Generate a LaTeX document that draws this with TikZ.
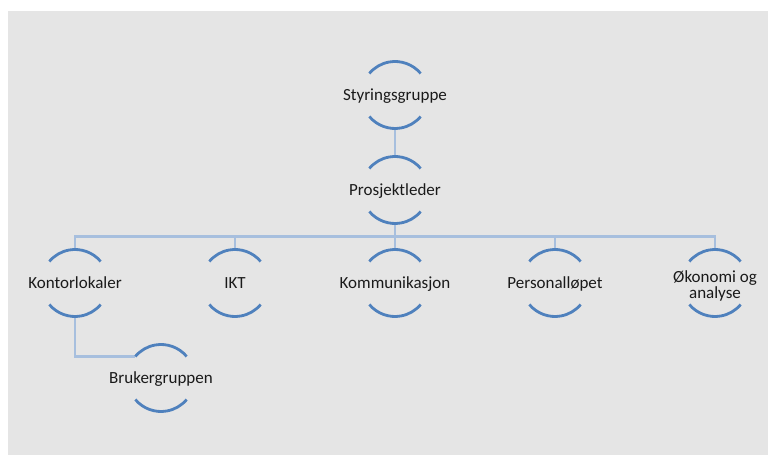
\documentclass[tikz,border=0pt]{standalone}
\usepackage{fontspec}
\setmainfont{Carlito}
\usetikzlibrary{positioning}
\definecolor{arcblue}{HTML}{4F81BD}
\definecolor{linkblue}{HTML}{A7BFDE}
\definecolor{bggrey}{HTML}{E5E5E5}
\definecolor{txtgrey}{HTML}{1A1A1A}

\begin{document}
\begin{tikzpicture}[x=1pt,y=1pt,
    unit/.style={circle,minimum size=67pt,inner sep=0pt,outer sep=0pt,
      label={[lbl]center:#1}},
    twoline/.style={circle,minimum size=67pt,inner sep=0pt,outer sep=0pt,
      label={[lbl,text height=,text depth=,yshift=-2.5pt]center:#1}},
    lbl/.style={txtgrey,font=\fontsize{17}{16}\selectfont,align=center,
      text height=12pt,text depth=0pt},
    link/.style={linkblue,line width=2.8pt},
    rim/.style={arcblue,line width=2.8pt}]
  \fill[bggrey] (8,0) rectangle (768,444);
  \useasboundingbox (0,0) rectangle (768,455);

  \node (sg) [unit=Styringsgruppe] at (395,360) {};
  \node (pl) [unit=Prosjektleder, below=28pt of sg] {};
  \node (kom) [unit=Kommunikasjon, below=26pt of pl] {};
  \node (ikt) [unit=IKT, left=93pt of kom] {};
  \node (ko) [unit=Kontorlokaler, left=93pt of ikt] {};
  \node (pers) [unit=Personalløpet, right=93pt of kom] {};
  \node (oko) [twoline={Økonomi og\\analyse}, right=93pt of pers] {};
  \node (bg) [unit=Brukergruppen, below=28pt of ko, xshift=86pt] {};

  \path[link]
    (sg) edge (pl)
    (ko.south) edge[to path={|- (\tikztotarget)}] (bg.140);
  \foreach \c in {ko,ikt,kom,pers,oko}
    \draw[link] (pl.south) -- ++(0,-13) -| (\c.north);

  \foreach \n in {sg,pl,ko,ikt,kom,pers,oko,bg}
    \draw[rim] (\n.40) arc[start angle=40,end angle=140,radius=33.5pt]
      (\n.220) arc[start angle=220,end angle=320,radius=33.5pt];
\end{tikzpicture}
\end{document}
